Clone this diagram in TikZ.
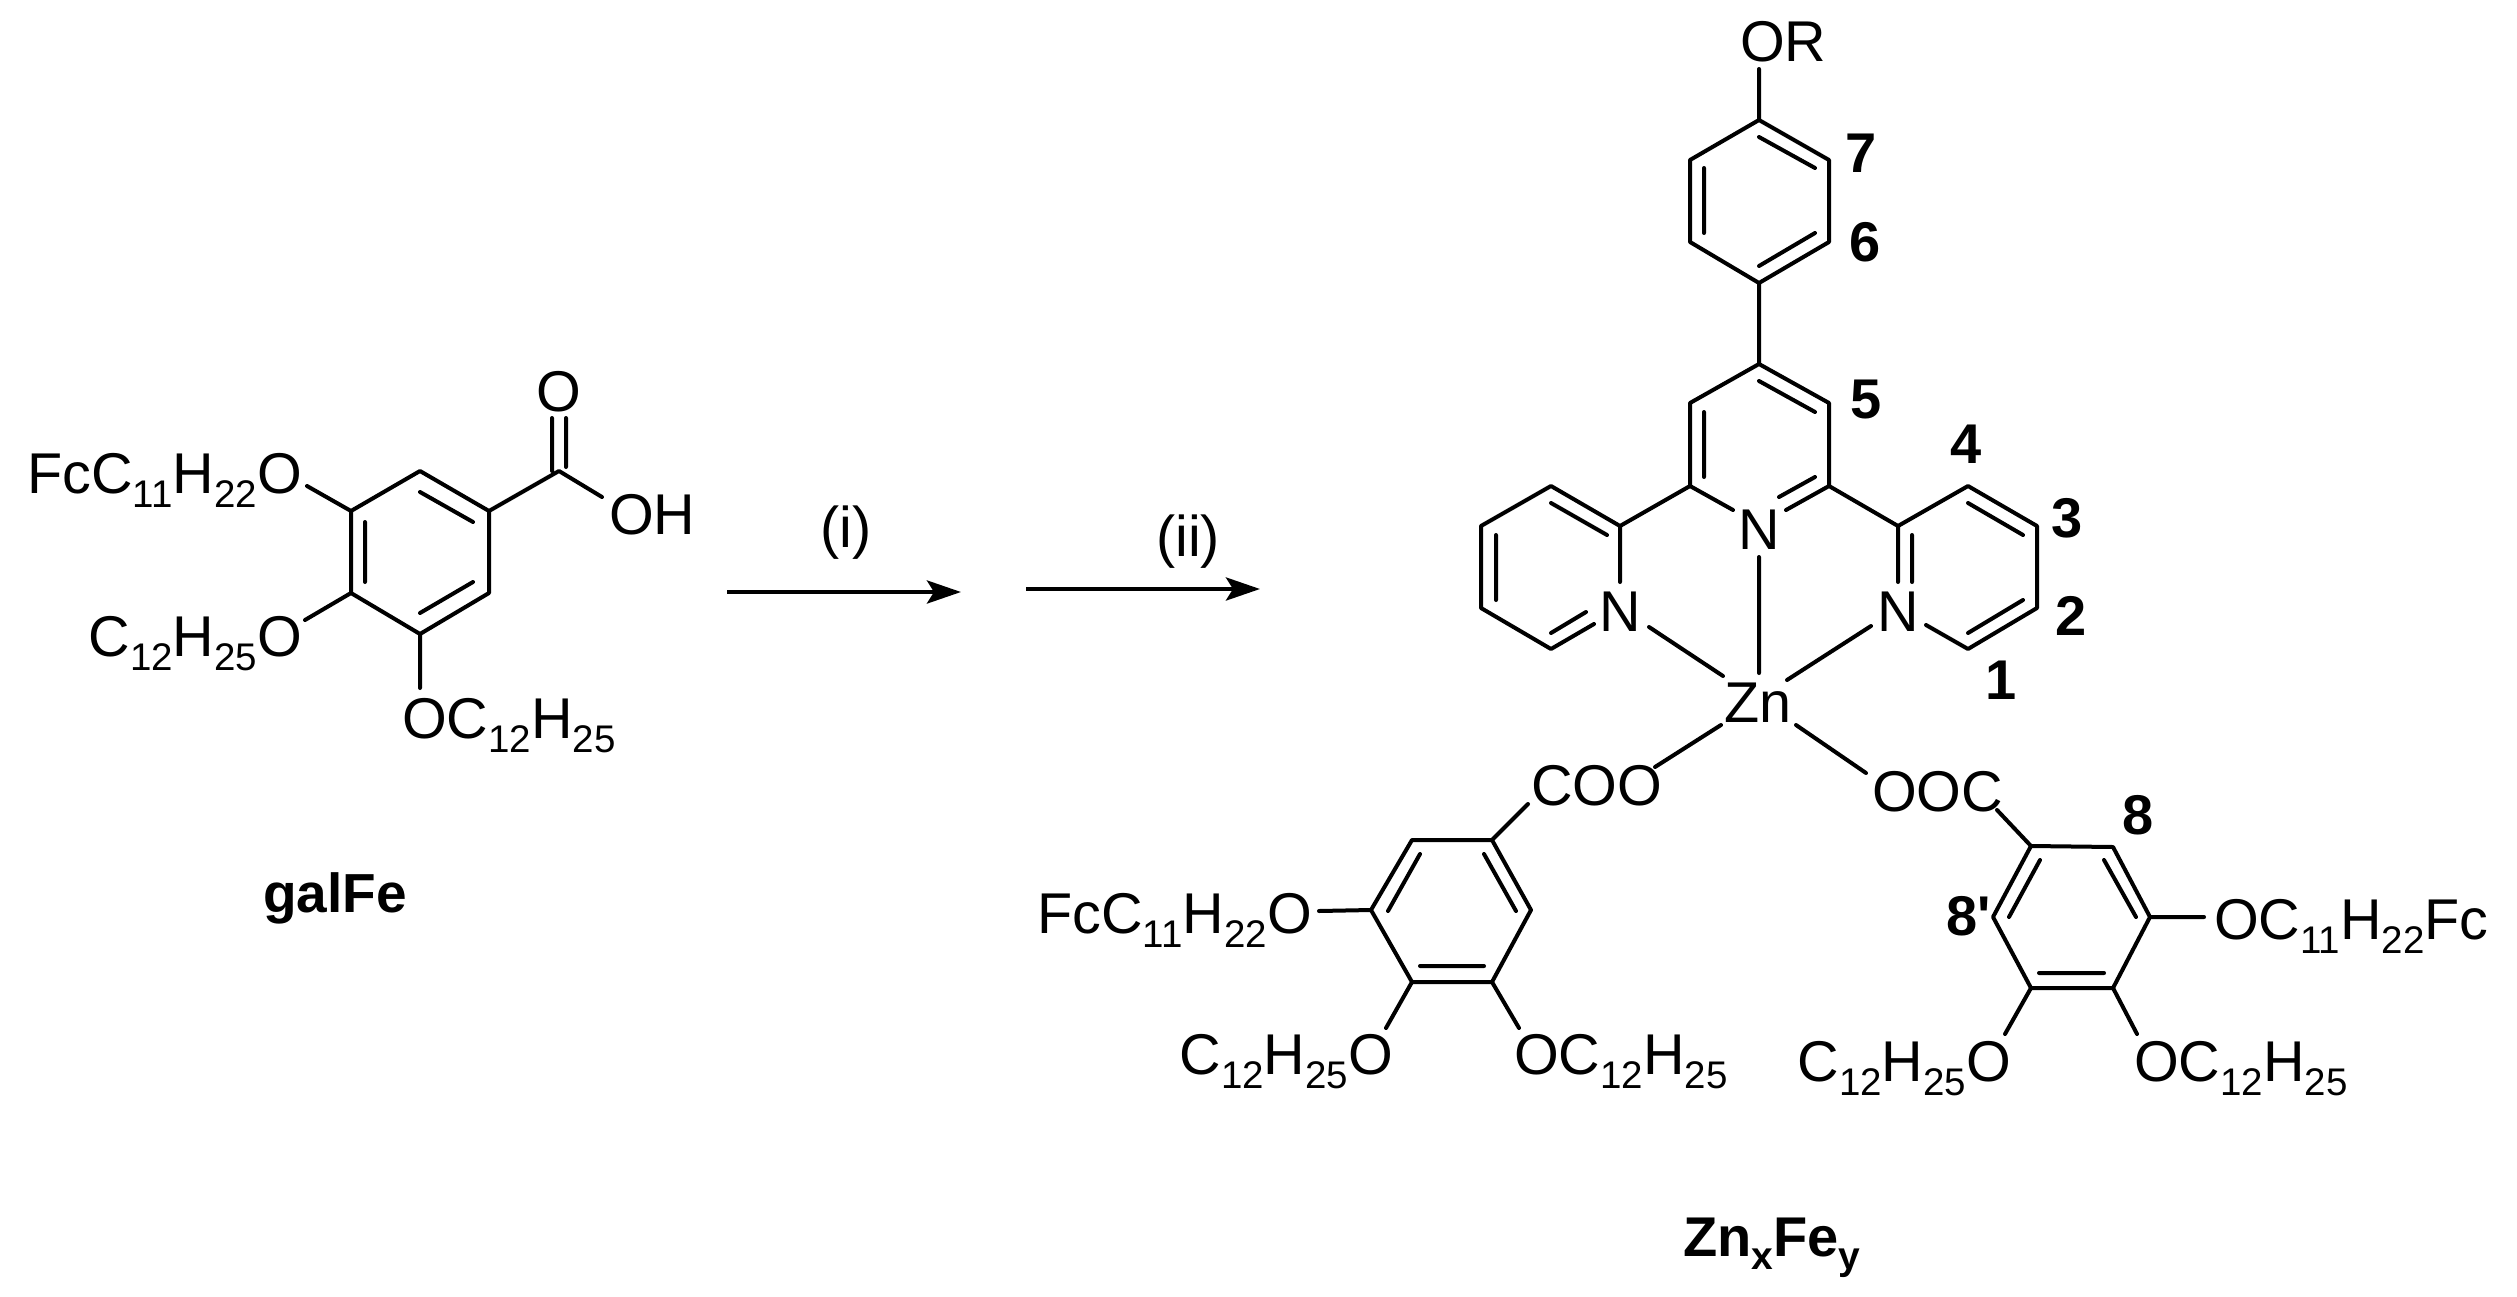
\documentclass[tikz,border=0pt]{standalone}
\usepackage{fontspec}
\setmainfont{Liberation Sans}[Ligatures=TeXOff]
\usetikzlibrary{arrows.meta}
\newcommand{\sbs}[1]{\raisebox{-14pt}{\fontsize{38.5}{39}\selectfont #1}}
\tikzset{
  x=1pt,y=-1pt,
  bond/.style={line width=4pt,line cap=round,line join=round,black},
  rxn/.style={line width=4.5pt,-{Stealth[length=34pt,width=23pt,inset=7pt]}},
  txt/.style={inner sep=0pt,outer sep=0pt,font=\fontsize{57.5}{60}\selectfont,anchor=base},
  txtl/.style={txt,anchor=base west},
  txtr/.style={txt,anchor=base east},
  numb/.style={inner sep=0pt,font=\fontsize{56}{60}\selectfont\bfseries}
}
\begin{document}
\begin{tikzpicture}
\useasboundingbox (0,0) rectangle (2517,1296);
\fill[white] (0,0) rectangle (2517,1296);
% --- galFe
\foreach \n/\x/\y in {a1/420/471,a2/489/511,a3/489/593,a4/420/634,a5/351/593,a6/351/511,
  ai1/420/492,ai2/473/522,ai3/473/582,ai4/420/613,ai5/365/582,ai6/365/522,
  ac/559/471,ao1/552/418,ao2/566/418,ac1/552/471,ac2/566/467,aoh/602/497,
  ar1/307/486,ar2/305/620,ar3/420/688}{\coordinate (\n) at (\x,\y);}
\draw[bond] (a1)--(a2)--(a3)--(a4)--(a5)--(a6)--cycle;
\draw[bond] (ai1)--(ai2) (ai3)--(ai4) (ai5)--(ai6);
\draw[bond] (a2)--(ac)--(aoh) (ac1)--(ao1) (ac2)--(ao2) (a6)--(ar1) (a5)--(ar2) (a4)--(ar3);
\node[txt] (aO) at (559,411) {O};
\node[txtl] (aOH) at (609,534) {OH};
\node[txtr] (aL1) at (302,493) {FcC\sbs{11}H\sbs{22}O};
\node[txtr] (aL2) at (302,656) {C\sbs{12}H\sbs{25}O};
\node[txtl] (aL3) at (402,738) {OC\sbs{12}H\sbs{25}};
\node[inner sep=0pt,font=\fontsize{55}{60}\selectfont\bfseries,anchor=base] (galfe) at (335,912) {galFe};
% --- arrows
\coordinate (r1s) at (727,592); \coordinate (r1e) at (961,592);
\coordinate (r2s) at (1026,589); \coordinate (r2e) at (1260,589);
\draw[rxn] (r1s)--(r1e);
\draw[rxn] (r2s)--(r2e);
\node[txt] (ri) at (846,547) {(i)};
\node[txt] (rii) at (1188,556) {(ii)};
% --- central complex
\foreach \n/\x/\y in {b1/1759/120,b2/1829/160,b3/1829/242,b4/1759/283,b5/1690/242,b6/1690/160,
  bi1/1759/137,bi2/1815/168,bi3/1815/233,bi4/1759/266,bi5/1704/233,bi6/1704/168,
  bor/1759/69,
  c1/1759/364,c2/1829/403,c3/1829/486,c5/1690/486,c6/1690/403,
  ci1/1759/381,ci2/1815/412,ci3a/1815/477,ci3b/1779/497,ci6a/1704/412,ci6b/1704/477,
  cnl/1733/510,cnr/1786/510,cnz/1759/557,zn1/1759/673,
  d1/1620/526,d2/1551/486,d3/1481/526,d4/1481/608,d5/1551/649,dn1/1620/582,dn2/1594/624,
  di2a/1551/503,di2b/1607/535,di3a/1496/535,di3b/1496/600,di5a/1551/633,di5b/1586/612,
  dz1/1649/627,dz2/1723/676,
  e1/1898/526,e2/1968/486,e3/2037/526,e4/2037/608,e5/1968/649,en1/1898/582,en2/1926/625,
  ei1a/1912/535,ei1b/1912/582,ei2a/1968/503,ei2b/2023/535,ei4a/2023/600,ei4b/1968/633,
  ez1/1871/626,ez2/1787/680,
  zl1/1721/725,zl2/1655/767,zr1/1796/725,zr2/1866/773}{\coordinate (\n) at (\x,\y);}
\draw[bond] (b1)--(b2)--(b3)--(b4)--(b5)--(b6)--cycle;
\draw[bond] (bi1)--(bi2) (bi3)--(bi4) (bi5)--(bi6) (bor)--(b1) (b4)--(c1);
\draw[bond] (cnl)--(c5)--(c6)--(c1)--(c2)--(c3)--(cnr);
\draw[bond] (ci1)--(ci2) (ci3a)--(ci3b) (ci6a)--(ci6b) (cnz)--(zn1);
\draw[bond] (c5)--(d1)--(d2)--(d3)--(d4)--(d5)--(dn2) (d1)--(dn1);
\draw[bond] (di2a)--(di2b) (di3a)--(di3b) (di5a)--(di5b) (dz1)--(dz2);
\draw[bond] (c3)--(e1)--(e2)--(e3)--(e4)--(e5)--(en2) (e1)--(en1);
\draw[bond] (ei1a)--(ei1b) (ei2a)--(ei2b) (ei4a)--(ei4b) (ez1)--(ez2);
\draw[bond] (zl1)--(zl2) (zr1)--(zr2);
\node[txtl] (bOR) at (1740,61) {OR};
\node[txt] (cN) at (1759,549) {N};
\node[txt] (dN) at (1620,631) {N};
\node[txt] (eN) at (1898,631) {N};
\node[txt] (Zn) at (1758,722) {Zn};
\node[numb] (n7) at (1861,153) {7};
\node[numb] (n6) at (1865,242) {6};
\node[numb] (n5) at (1866,400) {5};
\node[numb] (n4) at (1966,444) {4};
\node[numb] (n3) at (2067,518) {3};
\node[numb] (n2) at (2071,616) {2};
\node[numb] (n1) at (2001,680) {1};
% --- lower-left ring
\foreach \n/\x/\y in {f1/1412/840,f2/1492/840,f3/1531/910,f4/1492/982,f5/1412/982,f6/1371/910,
  fi1a/1420/854,fi1b/1388/911,fi2a/1484/854,fi2b/1516/911,fi3a/1420/966,fi3b/1484/966,
  fc/1528/804,fo1/1319/911,fo2/1386/1028,fo3/1519/1028}{\coordinate (\n) at (\x,\y);}
\draw[bond] (f1)--(f2)--(f3)--(f4)--(f5)--(f6)--cycle;
\draw[bond] (fi1a)--(fi1b) (fi2a)--(fi2b) (fi3a)--(fi3b);
\draw[bond] (f2)--(fc) (f6)--(fo1) (f5)--(fo2) (f4)--(fo3);
\node[txtl] (fCOO) at (1531,805) {COO};
\node[txtr] (fL1) at (1312,933) {FcC\sbs{11}H\sbs{22}O};
\node[txtr] (fL2) at (1393,1074) {C\sbs{12}H\sbs{25}O};
\node[txtl] (fL3) at (1514,1074) {OC\sbs{12}H\sbs{25}};
% --- lower-right ring
\foreach \n/\x/\y in {g1/2031/846,g2/2113/847,g3/2150/917,g4/2113/988,g5/2031/988,g6/1993/917,
  gi1a/2040/860,gi1b/2009/917,gi2a/2104/860,gi2b/2136/917,gi3a/2039/973,gi3b/2104/973,
  gc/1997/810,go1/2204/917,go2/2005/1034,go3/2137/1034}{\coordinate (\n) at (\x,\y);}
\draw[bond] (g1)--(g2)--(g3)--(g4)--(g5)--(g6)--cycle;
\draw[bond] (gi1a)--(gi1b) (gi2a)--(gi2b) (gi3a)--(gi3b);
\draw[bond] (g1)--(gc) (g3)--(go1) (g5)--(go2) (g4)--(go3);
\node[txtl] (gOOC) at (1872,811) {OOC};
\node[txtl] (gL1) at (2214,939) {OC\sbs{11}H\sbs{22}Fc};
\node[txtr] (gL2) at (2011,1081) {C\sbs{12}H\sbs{25}O};
\node[txtl] (gL3) at (2134,1081) {OC\sbs{12}H\sbs{25}};
\node[numb] (n8) at (2138,815) {8};
\node[numb] (n8p) at (1969,916) {8'};
% --- title
\node[inner sep=0pt,font=\fontsize{56}{60}\selectfont\bfseries,anchor=base west] (zf) at (1683,1256)
 {Zn\raisebox{-13pt}{\fontsize{39}{39}\selectfont x}Fe\raisebox{-13pt}{\fontsize{39}{39}\selectfont y}};
\end{tikzpicture}
\end{document}
